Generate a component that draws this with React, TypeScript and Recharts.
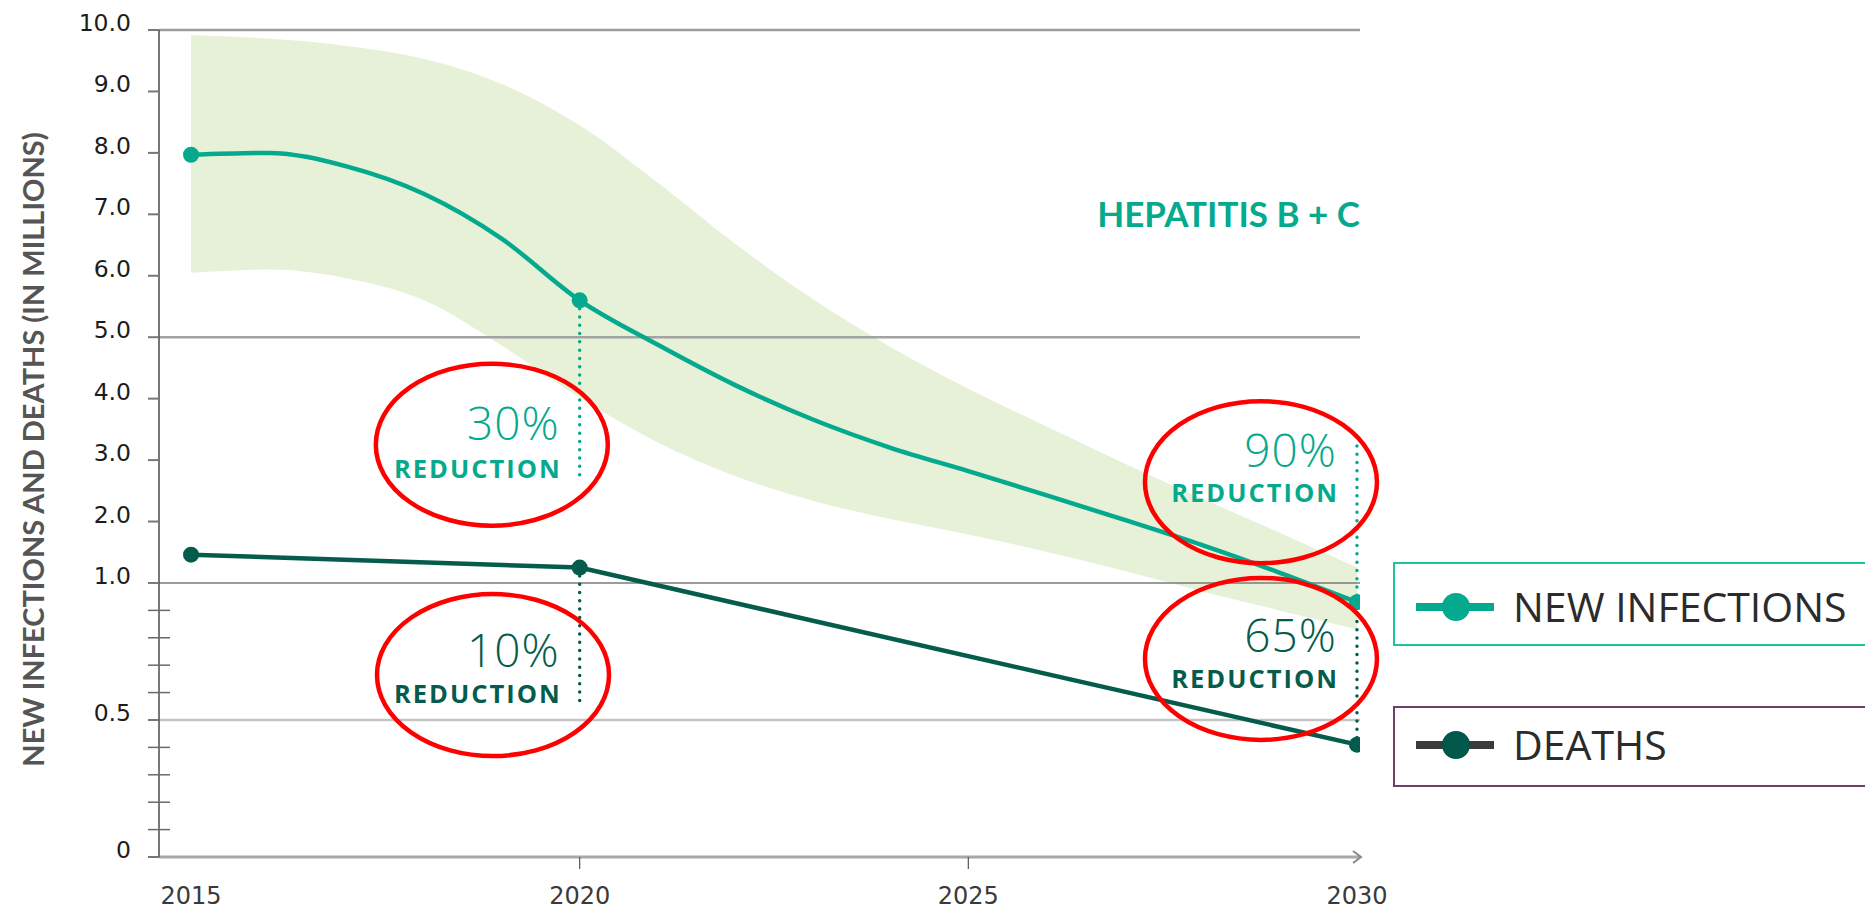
import React from "react";
import {
  ComposedChart,
  Line,
  Area,
  XAxis,
  YAxis,
  ReferenceLine,
  ReferenceDot,
} from "recharts";

const YEARS = [2015, 2016, 2017, 2018, 2019, 2020, 2021, 2022, 2023, 2024, 2025, 2026, 2027, 2028, 2029, 2030];
const NEW_INFECTIONS = [7.97, 8.0, 7.78, 7.33, 6.6, 5.6, 4.88, 4.22, 3.66, 3.2, 2.82, 2.43, 2.03, 1.62, 1.17, 0.93];
const BAND_LOW = [6.05, 6.1, 5.96, 5.6, 4.86, 4.02, 3.29, 2.74, 2.34, 2.04, 1.79, 1.51, 1.2, 0.97, 0.9, 0.83];
const BAND_HIGH = [9.92, 9.86, 9.74, 9.53, 9.12, 8.45, 7.52, 6.52, 5.62, 4.84, 4.16, 3.55, 2.95, 2.38, 1.82, 1.25];
const DEATH_YEARS = [2015, 2020, 2030];
const DEATHS = [1.46, 1.25, 0.41];
const KEY_YEARS = [2015, 2020, 2030];

const X_TICKS = [2015, 2020, 2025, 2030];
const Y_MAJOR = [0, 0.5, 1, 2, 3, 4, 5, 6, 7, 8, 9, 10];
const Y_MINOR = [0.1, 0.2, 0.3, 0.4, 0.6, 0.7, 0.8, 0.9];

const TEAL = "#05a98d";
const DARK = "#055c4c";
const BAND = "#e7f1d8";
const RED = "#ff0000";

// the axis is split: 0-1 is stretched, 1-10 is linear
const BREAK = 4.46;
const toD = (v: number) => (v <= 1 ? v * BREAK : BREAK + (v - 1));
const fromD = (d: number) => (d <= BREAK + 1e-9 ? d / BREAK : d - BREAK + 1);

const X_MIN = 2014.588;
const X_MAX = 2030.039;

const GRID = [
  { v: 10, stroke: "#9c9c9c", width: 2.5 },
  { v: 5, stroke: "#a3a3a3", width: 2.5 },
  { v: 1, stroke: "#7a7a7a", width: 1.5 },
  { v: 0.5, stroke: "#c4c4c4", width: 2.5 },
];

const REDUCTIONS = [
  { year: 2020, pct: "30%", pctY: 3.32, redY: 2.71, from: 5.6, to: 2.72, color: TEAL },
  { year: 2020, pct: "10%", pctY: 0.693, redY: 0.563, from: 1.25, to: 0.56, color: DARK },
  { year: 2030, pct: "90%", pctY: 2.88, redY: 2.31, from: 3.23, to: 0.93, color: TEAL },
  { year: 2030, pct: "65%", pctY: 0.749, redY: 0.617, from: 0.89, to: 0.41, color: DARK },
];

const CIRCLES = [
  { year: 2018.87, v: 3.25 },
  { year: 2018.885, v: 0.664 },
  { year: 2028.765, v: 2.64 },
  { year: 2028.765, v: 0.723 },
];

const LEGEND = [
  { label: "NEW INFECTIONS", line: TEAL, dot: TEAL, border: "#1ac59e", top: 562, height: 84, base: 60 },
  { label: "DEATHS", line: "#3a3a3a", dot: "#00574a", border: "#6d3f6d", top: 706, height: 81, base: 54 },
];

const data = YEARS.map((year, i) => {
  const di = DEATH_YEARS.indexOf(year);
  return {
    year,
    infections: toD(NEW_INFECTIONS[i]),
    band: [toD(BAND_LOW[i]), toD(BAND_HIGH[i])],
    deaths: di >= 0 ? toD(DEATHS[di]) : null,
  };
});

const keyDot = (color: string) =>
  // eslint-disable-next-line @typescript-eslint/no-explicit-any
  (props: any) => {
    const { cx, cy, payload, index } = props;
    if (cy == null || !KEY_YEARS.includes(payload.year)) return <g key={`n${index}`} />;
    return <circle key={`d${index}`} cx={cx} cy={cy} r={8} fill={color} />;
  };

// eslint-disable-next-line @typescript-eslint/no-explicit-any
function YTick({ x, y, payload }: any) {
  const v = Math.round(fromD(payload.value) * 100) / 100;
  if (Y_MINOR.includes(v)) {
    return <line x1={x - 11} x2={x + 11} y1={y} y2={y} stroke="#6a6a6a" strokeWidth={1.5} />;
  }
  const label = v === 0 ? "0" : v === 0.5 ? "0.5" : v.toFixed(1);
  return (
    <g>
      <line x1={x - 11} x2={x} y1={y} y2={y} stroke="#777" strokeWidth={2} />
      <text x={x - 28} y={y + 1} textAnchor="end" fontFamily="DejaVu Sans" fontSize={23.5} fill="#1c1c1c">
        {label}
      </text>
    </g>
  );
}

// eslint-disable-next-line @typescript-eslint/no-explicit-any
function XTick({ x, y, payload }: any) {
  const showLine = payload.value !== 2015 && payload.value !== 2030;
  return (
    <g>
      {showLine && <line x1={x} x2={x} y1={y} y2={y + 12} stroke="#555" strokeWidth={1.2} />}
      <text x={x} y={y + 47} textAnchor="middle" fontFamily="DejaVu Sans" fontSize={24} fill="#3a3a3a">
        {payload.value}
      </text>
    </g>
  );
}

export default function App() {
  return (
    <div style={{ position: "absolute", left: 0, top: 0, width: 1865, height: 913, background: "#fff", overflow: "hidden" }}>
      <ComposedChart width={1865} height={913} data={data} margin={{ top: 30, right: 505, bottom: 16, left: 0 }}>
        <XAxis
          dataKey="year"
          type="number"
          domain={[X_MIN, X_MAX]}
          allowDataOverflow
          ticks={X_TICKS}
          interval={0}
          axisLine={{ stroke: "#a8a8a8", strokeWidth: 3 }}
          tickLine={false}
          tickSize={0}
          tickMargin={0}
          tick={<XTick />}
          height={40}
        />
        <YAxis
          type="number"
          domain={[0, toD(10)]}
          allowDataOverflow
          ticks={[...Y_MAJOR, ...Y_MINOR].map(toD)}
          interval={0}
          axisLine={{ stroke: "#4a4a4a", strokeWidth: 1.5 }}
          tickLine={false}
          tickSize={0}
          tickMargin={0}
          tick={<YTick />}
          width={159}
          label={{
            // eslint-disable-next-line @typescript-eslint/no-explicit-any
            content: ({ viewBox }: any) => (
              <text
                x={32}
                y={viewBox.y + viewBox.height / 2 + 6}
                transform={`rotate(-90, 32, ${viewBox.y + viewBox.height / 2 + 6})`}
                textAnchor="middle"
                dominantBaseline="central"
                fontFamily="Lato"
                fontWeight={700}
                fontSize={29}
                fill="#555"
              >
                NEW INFECTIONS AND DEATHS (IN MILLIONS)
              </text>
            ),
          }}
        />
        <Area
          dataKey="band"
          type="monotone"
          fill={BAND}
          fillOpacity={1}
          stroke="none"
          activeDot={false}
          isAnimationActive={false}
        />
        {GRID.map((g) => (
          <ReferenceLine key={g.v} y={toD(g.v)} stroke={g.stroke} strokeWidth={g.width} />
        ))}
        {REDUCTIONS.map((r) => (
          <ReferenceLine
            key={`drop-${r.pct}`}
            segment={[
              { x: r.year, y: toD(r.from) },
              { x: r.year, y: toD(r.to) },
            ]}
            stroke={r.color}
            strokeWidth={3.5}
            strokeDasharray="0 8.3"
            strokeLinecap="round"
          />
        ))}
        <Line
          dataKey="infections"
          type="monotone"
          stroke={TEAL}
          strokeWidth={4.5}
          dot={keyDot(TEAL)}
          activeDot={false}
          isAnimationActive={false}
        />
        <Line
          dataKey="deaths"
          type="linear"
          stroke={DARK}
          strokeWidth={4.5}
          connectNulls
          dot={keyDot(DARK)}
          activeDot={false}
          isAnimationActive={false}
        />
        {REDUCTIONS.map((r) => (
          <ReferenceDot
            key={`pct-${r.pct}`}
            x={r.year}
            y={toD(r.pctY)}
            ifOverflow="visible"
            // eslint-disable-next-line @typescript-eslint/no-explicit-any
            shape={(p: any) => (
              <g>
                <text x={p.cx - 20} y={p.cy} textAnchor="end" fontFamily="Open Sans" fontWeight={300} fontSize={46} letterSpacing={1} fill={r.color}>
                  {r.pct}
                </text>
                <text
                  x={p.cx - 18}
                  y={p.cy + (toD(r.pctY) - toD(r.redY)) * 61.44}
                  textAnchor="end"
                  fontFamily="Open Sans"
                  fontWeight={700}
                  fontSize={25.5}
                  letterSpacing={2}
                  fill={r.color}
                >
                  REDUCTION
                </text>
              </g>
            )}
          />
        ))}
        {CIRCLES.map((c, i) => (
          <ReferenceDot
            key={`circle-${i}`}
            x={c.year}
            y={toD(c.v)}
            ifOverflow="visible"
            // eslint-disable-next-line @typescript-eslint/no-explicit-any
            shape={(p: any) => <ellipse cx={p.cx} cy={p.cy} rx={116} ry={81} fill="none" stroke={RED} strokeWidth={4.5} />}
          />
        ))}
        <ReferenceDot
          x={X_MAX}
          y={0}
          ifOverflow="visible"
          // eslint-disable-next-line @typescript-eslint/no-explicit-any
          shape={(p: any) => (
            <polyline
              points={`${p.cx - 7},${p.cy - 6} ${p.cx + 1},${p.cy} ${p.cx - 7},${p.cy + 6}`}
              fill="none"
              stroke="#888"
              strokeWidth={2}
            />
          )}
        />
      </ComposedChart>

      <svg width={1865} height={913} style={{ position: "absolute", left: 0, top: 0, pointerEvents: "none" }}>
        <text x={1360} y={227} textAnchor="end" fontFamily="Lato" fontWeight={700} fontSize={35} fill={TEAL}>
          HEPATITIS B + C
        </text>
      </svg>

      {LEGEND.map((l) => (
        <div
          key={l.label}
          style={{
            position: "absolute",
            left: 1393,
            top: l.top,
            width: 472,
            height: l.height,
            boxSizing: "border-box",
            border: `2px solid ${l.border}`,
            borderRight: "none",
            background: "#fff",
          }}
        >
          <svg width={470} height={l.height - 4} style={{ display: "block" }}>
            <line x1={21} x2={99} y1={l.base - 17} y2={l.base - 17} stroke={l.line} strokeWidth={8} />
            <circle cx={61} cy={l.base - 17} r={14} fill={l.dot} />
            <text x={118} y={l.base - 2} fontFamily="Open Sans" fontSize={41} fill="#2b2b2b">
              {l.label}
            </text>
          </svg>
        </div>
      ))}
    </div>
  );
}
